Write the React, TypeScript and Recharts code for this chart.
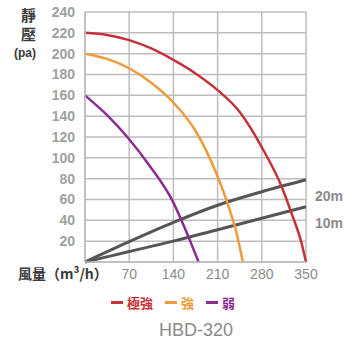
import React from 'react';
import { CartesianGrid, Line, LineChart, XAxis, YAxis } from 'recharts';

// 風量 (m³/h) vs 靜壓 (pa)
const flowTicks = [0, 70, 140, 210, 280, 350];
const pressureTicks = [0, 20, 40, 60, 80, 100, 120, 140, 160, 180, 200, 220, 240];

const maxFlow = [0, 35, 70, 105, 140, 175, 210, 245, 266, 282, 311, 327, 343, 350];
const maxPressure = [220, 218, 213, 205, 194, 181, 165, 144, 125, 108, 73, 47, 18, 0];

const highFlow = [0, 35, 70, 105, 140, 175, 210, 227, 240, 250];
const highPressure = [200, 195, 186, 172, 153, 126, 82, 54, 28, 0];

const lowFlow = [0, 35, 67, 104, 140, 152, 166, 180];
const lowPressure = [160, 141, 120, 91, 57, 41, 21, 0];

const ductFlow = [0, 70, 140, 210, 280, 350];
const duct20m = [0, 19.5, 38, 54.5, 67.5, 79];
const duct10m = [0, 10, 20, 31, 42, 53];

const zip = (xs: number[], ys: number[]) => xs.map((x, i) => ({ x, y: ys[i] }));

const series = [
  { name: '極強', color: '#c5323b', data: zip(maxFlow, maxPressure) },
  { name: '強', color: '#f09a3a', data: zip(highFlow, highPressure) },
  { name: '弱', color: '#8c2c93', data: zip(lowFlow, lowPressure) },
];

const ducts = [
  { name: '20m', data: zip(ductFlow, duct20m) },
  { name: '10m', data: zip(ductFlow, duct10m) },
];

const numFont = '"Liberation Sans", Arial, sans-serif';
const cjkFont = '"Noto Sans CJK TC", "Noto Sans CJK SC", sans-serif';

const EndLabel = (text: string, last: number) => (props: any) => {
  if (props.index !== last) return null;
  return (
    <text
      x={props.x + 9}
      y={props.y + 16}
      dominantBaseline="central"
      fill="#8a8a8a"
      fontSize={14}
      fontWeight="bold"
      fontFamily={numFont}
    >
      {text}
    </text>
  );
};

const titleStyle: React.CSSProperties = {
  position: 'absolute',
  fontFamily: cjkFont,
  fontWeight: 'bold',
  fontSize: 15,
  lineHeight: '15px',
  height: 15,
  overflow: 'visible',
  color: '#3a3a3a',
};

export default function App() {
  return (
    <div style={{ position: 'absolute', left: 0, top: 0, width: 346, height: 345, background: '#fff' }}>
      <LineChart width={346} height={345} margin={{ top: 12, right: 40, bottom: 53, left: 0 }}>
        <CartesianGrid stroke="#bdbdbd" strokeWidth={1.5} />
        <XAxis
          dataKey="x"
          type="number"
          domain={[0, 350]}
          ticks={flowTicks}
          interval={0}
          tickFormatter={(v) => (v === 0 ? '' : String(v))}
          height={30}
          tickLine={false}
          tickMargin={1}
          axisLine={{ stroke: '#bdbdbd', strokeWidth: 1.5 }}
          tick={{ fill: '#8a8a8a', fontSize: 14, fontFamily: numFont }}
          allowDuplicatedCategory={false}
        />
        <YAxis
          type="number"
          domain={[0, 240]}
          ticks={pressureTicks}
          interval={0}
          tickFormatter={(v) => (v === 0 ? '' : String(v))}
          width={85}
          tickLine={false}
          tickMargin={4}
          axisLine={{ stroke: '#bdbdbd', strokeWidth: 1.5 }}
          tick={{ fill: '#a0a0a0', fontSize: 14, fontWeight: 'bold', fontFamily: numFont }}
        />
        {ducts.map((d) => (
          <Line
            key={d.name}
            data={d.data}
            dataKey="y"
            type="monotone"
            stroke="#565656"
            strokeWidth={3}
            dot={false}
            label={EndLabel(d.name, d.data.length - 1)}
            isAnimationActive={false}
          />
        ))}
        {series.map((s) => (
          <Line
            key={s.name}
            data={s.data}
            dataKey="y"
            type="monotone"
            stroke={s.color}
            strokeWidth={2.5}
            dot={false}
            isAnimationActive={false}
          />
        ))}
      </LineChart>

      <div style={{ ...titleStyle, left: 21, top: 7 }}>靜</div>
      <div style={{ ...titleStyle, left: 21, top: 26 }}>壓</div>
      <div style={{ position: 'absolute', left: 14, top: 46, fontFamily: numFont, fontWeight: 'bold', fontSize: 12, lineHeight: '14px', color: '#3a3a3a' }}>
        (pa)
      </div>
      <div style={{ position: 'absolute', left: 18, top: 263, fontFamily: cjkFont, fontWeight: 'bold', fontSize: 14, color: '#3a3a3a', whiteSpace: 'nowrap' }}>
        風量（m³/h）
      </div>

      <div style={{ position: 'absolute', left: 0, top: 293, width: 346, display: 'flex', justifyContent: 'center', fontFamily: cjkFont, fontWeight: 'bold', fontSize: 13 }}>
        {series.map((s) => (
          <span key={s.name} style={{ display: 'flex', alignItems: 'center', margin: '0 6px', color: s.color }}>
            <span style={{ display: 'inline-block', width: 12, height: 3, background: s.color, marginRight: 4 }} />
            {s.name}
          </span>
        ))}
      </div>
      <div style={{ position: 'absolute', left: 0, top: 320, width: 346, textAlign: 'center', paddingLeft: 46, boxSizing: 'border-box', fontFamily: numFont, fontSize: 18, color: '#8a8a8a' }}>
        HBD-320
      </div>
    </div>
  );
}
